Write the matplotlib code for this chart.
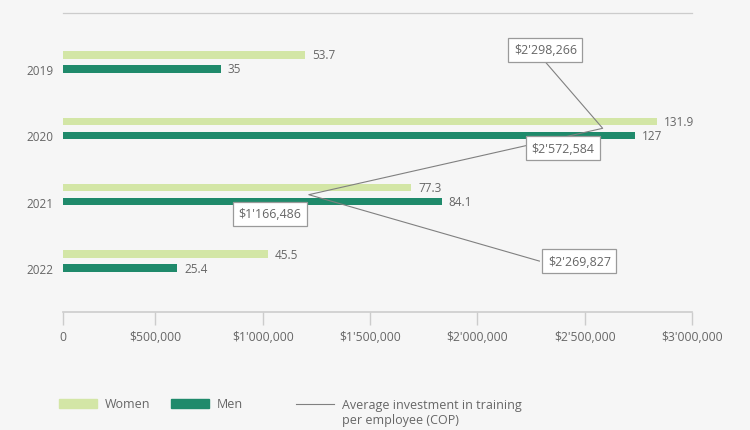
import numpy as np
import matplotlib
matplotlib.use("Agg")
import matplotlib.pyplot as plt
from matplotlib.patches import Patch
from matplotlib.lines import Line2D

plt.rcParams['font.family'] = ['Open Sans', 'DejaVu Sans']

# Data
years = ["2019", "2020", "2021", "2022"]
women_hours = [53.7, 131.9, 77.3, 45.5]
men_hours = [35, 127, 84.1, 25.4]
avg_investment = [2298266, 2572584, 1166486, 2269827]
x_ticks = [0, 500000, 1000000, 1500000, 2000000, 2500000, 3000000]

light_green = "#d3e6a6"
dark_green = "#1f8a6b"
text_gray = "#666666"
line_gray = "#808080"
axis_gray = "#cccccc"
bg = "#f6f6f6"


def cop(v):
    # format like $2'298,266
    v = int(round(v))
    if v == 0:
        return "0"
    millions, rest = divmod(v, 1000000)
    if millions:
        return "${}'{:03d},{:03d}".format(millions, rest // 1000, rest % 1000)
    return "${:,}".format(v)


fig = plt.figure(figsize=(7.5, 4.31), dpi=100, facecolor=bg)
ax = fig.add_axes([63 / 750, 1 - 313 / 431, 629 / 750, 299 / 431])
ax.set_facecolor(bg)

pos = np.arange(len(years))
off = 0.105
h = 0.113

# visible value axis: the "0" tick sits at the left edge of the plot
axis_start = 69000
ax.set_xlim(axis_start, x_ticks[-1])
ax.set_xticks([axis_start] + x_ticks[1:])
ax.set_xticklabels([cop(t) for t in x_ticks])
ax.tick_params(axis="x", length=9.5, width=1, color=axis_gray, labelcolor=text_gray,
               labelsize=8.7, pad=3.5)
ax.set_ylim(3.767, -0.737)
ax.set_yticks(pos + off)
ax.set_yticklabels(years)
ax.tick_params(axis="y", length=0, labelcolor=text_gray, labelsize=8.5, pad=7)
for side in ["left", "right"]:
    ax.spines[side].set_visible(False)
ax.spines["top"].set_color(axis_gray)
ax.spines["bottom"].set_color(axis_gray)
ax.spines["top"].set_linewidth(0.9)
ax.spines["bottom"].set_linewidth(1.2)

# bars use their own hidden scale (hours)
axb = ax.twiny()
axb.set_xlim(0, 139.7)
axb.barh(pos - off, women_hours, height=h, color=light_green)
axb.barh(pos + off, men_hours, height=h, color=dark_green)
for p, w, m in zip(pos, women_hours, men_hours):
    axb.annotate(f"{w:g}", (w, p - off), xytext=(7, 0), textcoords="offset pixels",
                 va="center", ha="left", fontsize=8.5, color=text_gray)
    axb.annotate(f"{m:g}", (m, p + off), xytext=(7, 0), textcoords="offset pixels",
                 va="center", ha="left", fontsize=8.5, color=text_gray)

# investment line, hidden scale in COP
axl = ax.twiny()
axl.set_xlim(-9600, 3000000)
axl.plot(avg_investment, pos, color=line_gray, linewidth=0.8, zorder=3)

label_offsets = [(0, 12), (-40, -20), (-39, -19), (40, 0)]
for x, p, o in zip(avg_investment, pos, label_offsets):
    axl.annotate(cop(x), (x, p), xytext=o, textcoords="offset pixels",
                 ha="center", va="center", fontsize=8.9, color=text_gray, zorder=5,
                 bbox=dict(boxstyle="square,pad=0.45", fc="white", ec="#9a9a9a", lw=0.9))

for a in (axb, axl):
    a.set_xticks([])
    for s in a.spines.values():
        s.set_visible(False)

# legend, pieces placed along the bottom
leg_kw = dict(frameon=False, fontsize=9, labelcolor=text_gray, handlelength=3.0,
              handletextpad=0.7, loc="center left", borderpad=0, borderaxespad=0)
fig.legend(handles=[Patch(color=light_green, label="Women")],
           bbox_to_anchor=(59 / 750, 1 - 405 / 431), **leg_kw)
fig.legend(handles=[Patch(color=dark_green, label="Men")],
           bbox_to_anchor=(171 / 750, 1 - 405 / 431), **leg_kw)
fig.legend(handles=[Line2D([], [], color=line_gray, lw=0.8,
                           label="Average investment in training")],
           bbox_to_anchor=(296 / 750, 1 - 406 / 431), **leg_kw)
fig.text(342 / 750, 1 - 421 / 431, "per employee (COP)", fontsize=9,
         color=text_gray, va="center", ha="left")

fig.savefig("out.png", dpi=100, facecolor=bg)
